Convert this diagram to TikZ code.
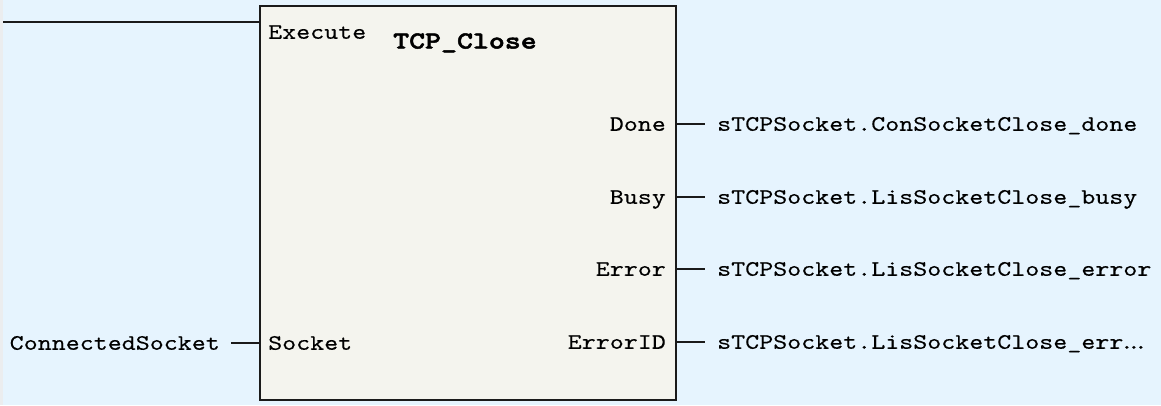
\documentclass[tikz,border=0pt]{standalone}
\usepackage{fontspec}
\newfontfamily\pinfont{lmmono10-regular.otf}[FakeStretch=1.207, FakeBold=0.25]
\newfontfamily\ttlfont{lmmonolt10-bold.otf}[FakeStretch=1.24, FakeBold=2]
\definecolor{bgblue}{HTML}{E6F4FE}
\definecolor{strip}{HTML}{EBEDEF}
\definecolor{boxfill}{HTML}{F4F4EE}
\definecolor{wire}{HTML}{1A1A1A}
\newcommand{\hdot}{\makebox[7pt]{.}}
\tikzset{
  lbl/.style={font=\pinfont\fontsize{22.1}{28}\selectfont, inner ysep=0pt, inner xsep=0pt, text height=13.5pt, text depth=0pt, text=black},
  ttl/.style={font=\ttlfont\fontsize{24.5}{32}\selectfont, inner ysep=0pt, inner xsep=0pt, text height=15pt, text depth=0pt},
  fbox/.style={draw=wire, line width=2.4pt, fill=boxfill, minimum width=416pt, minimum height=394pt, inner sep=0pt},
  pin/.style={draw=wire, line width=1.6pt}
}
\begin{document}
\begin{tikzpicture}[x=1pt,y=-1pt]
\useasboundingbox (0,0) rectangle (1161,405);
\fill[bgblue] (0,0) rectangle (1161,405);
\fill[strip] (0,0) rectangle (3,405);
% function block
\node[fbox] (fb) at (468,203) {};
\node[ttl, anchor=west] (title) at (393,41) {TCP\_Close};
% inputs
\node[lbl, anchor=west] (exe) at (268,32) {Execute};
\node[lbl, anchor=west] (sock) at (268,343) {Socket};
\coordinate (exstart) at (3,22);
\draw[pin] (exstart) -- (exstart -| fb.west);
\node[lbl, anchor=east] (cs) at (220,343) {ConnectedSocket};
\draw[pin] ([xshift=11pt]cs.east) -- (cs.east -| fb.west);
% outputs
\node[lbl, anchor=east] (done) at (666,124) {Done};
\node[lbl, anchor=east] (busy) at (666,197) {Busy};
\node[lbl, anchor=east] (err) at (666,269) {Error};
\node[lbl, anchor=east] (errid) at (666,342) {ErrorID};
\node[lbl, anchor=west] (v1) at (717,124) {sTCPSocket.ConSocketClose\_done};
\node[lbl, anchor=west] (v2) at (717,197) {sTCPSocket.LisSocketClose\_busy};
\node[lbl, anchor=west] (v3) at (717,269) {sTCPSocket.LisSocketClose\_error};
\node[lbl, anchor=west] (v4) at (717,342) {sTCPSocket.LisSocketClose\_err\hdot\hdot\hdot};
\foreach \v in {v1,v2,v3,v4}
  \draw[pin] (fb.east |- \v.west) -- ([xshift=-12pt]\v.west);
\end{tikzpicture}
\end{document}
